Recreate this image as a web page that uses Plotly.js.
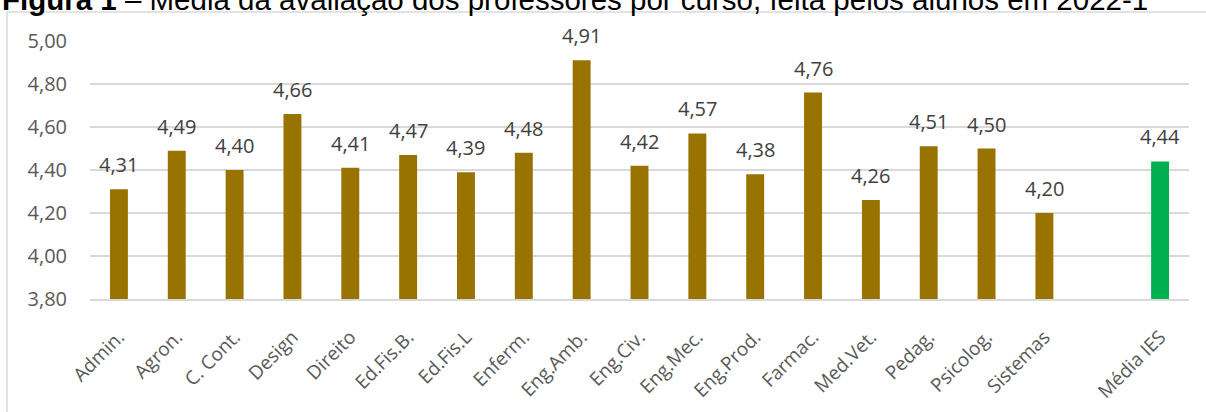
<!DOCTYPE html>
<html><head><meta charset="utf-8">
<script src="https://cdn.plot.ly/plotly-3.0.1.min.js"></script>
<style>html,body{margin:0;padding:0;background:#fff;}#chart{width:1206px;height:412px;}</style>
</head><body><div id="chart"></div>
<script>
const categories = ["Admin.","Agron.","C. Cont.","Design","Direito","Ed.Fis.B.","Ed.Fis.L","Enferm.","Eng.Amb.","Eng.Civ.","Eng.Mec.","Eng.Prod.","Farmac.","Med.Vet.","Pedag.","Psicolog.","Sistemas"," ","Média IES"];
const values = [4.31,4.49,4.40,4.66,4.41,4.47,4.39,4.48,4.91,4.42,4.57,4.38,4.76,4.26,4.51,4.50,4.20,null,4.44];
const barColors = categories.map(c => c === "Média IES" ? "#00B050" : "#997300");
const yTicks = [3.8,4.0,4.2,4.4,4.6,4.8,5.0];
const titleText = "<b>Figura 1</b> – Média da avaliação dos professores por curso, feita pelos alunos em 2022-1";

const trace = {
  type: "bar", x: categories, y: values,
  marker: {color: barColors},
  hoverinfo: "none"
};

const labelAnns = categories.map((c,i) => values[i] == null ? null : ({
  x: c, y: values[i], xref: "x", yref: "y",
  text: values[i].toFixed(2).replace(".", ","),
  showarrow: false, yanchor: "bottom", yshift: 9,
  font: {family: "Open Sans", size: 20, color: "#404040"}
})).filter(a => a);

const layout = {
  width: 1206, height: 412,
  margin: {l: 90, r: 17, t: 41, b: 113},
  paper_bgcolor: "#fff", plot_bgcolor: "#fff",
  separators: ",.",
  bargap: 0.69,
  showlegend: false,
  xaxis: {
    type: "category", tickangle: -45,
    tickfont: {family: "Open Sans", size: 19, color: "#595959"},
    showgrid: false, showline: true, linecolor: "#d9d9d9", linewidth: 1.5,
    ticks: "", ticklabelstandoff: 18, fixedrange: true
  },
  yaxis: {
    range: [3.8, 5.0], tickvals: yTicks, tickformat: ".2f",
    tickfont: {family: "Open Sans", size: 20, color: "#595959"},
    gridcolor: "#d9d9d9", gridwidth: 1.5, zeroline: false,
    showline: false, ticks: "", ticklabelstandoff: 22, fixedrange: true
  },
  annotations: [{
    xref: "paper", yref: "paper", x: -0.0819, y: 1.162,
    xanchor: "left", yanchor: "middle", showarrow: false,
    text: titleText,
    font: {family: "Liberation Sans", size: 29.5, color: "#000"}
  }].concat(labelAnns),
  shapes: [{
    type: "rect", xref: "paper", yref: "paper",
    x0: -0.0755, x1: 1.03, y0: -0.6, y1: 1.112,
    line: {color: "#d9d9d9", width: 1.5}, layer: "below"
  }]
};
Plotly.newPlot("chart", [trace], layout, {displayModeBar: false, staticPlot: true});
</script></body></html>
